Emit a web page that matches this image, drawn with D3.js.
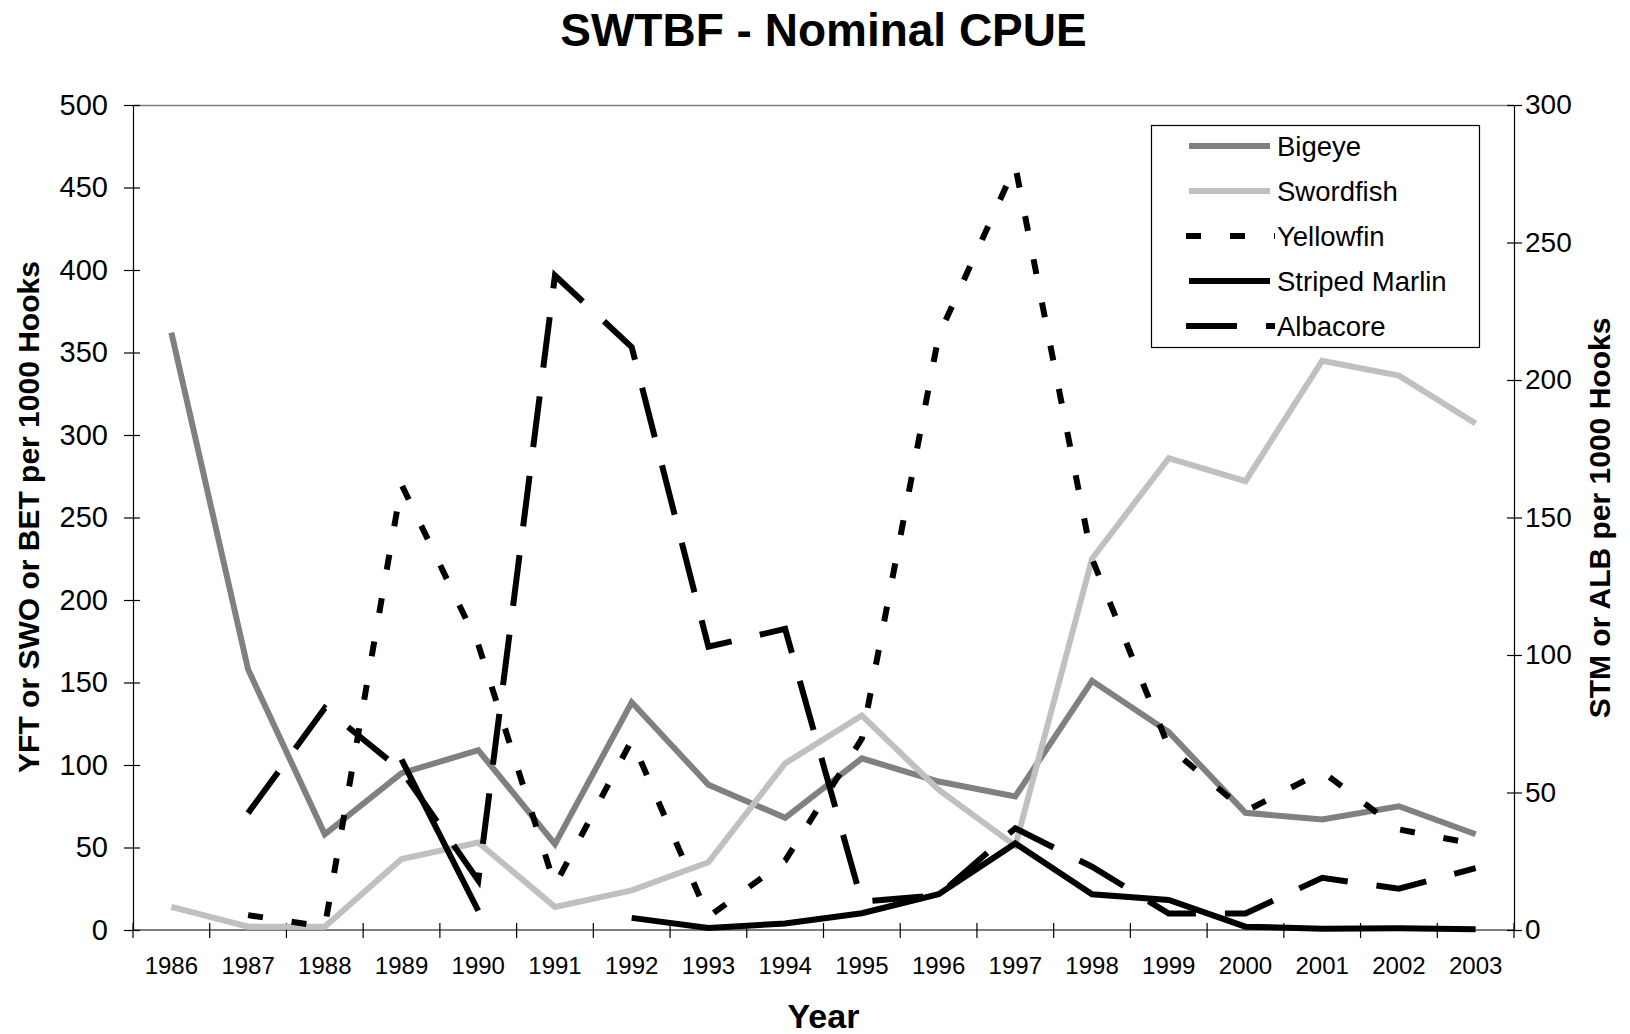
<!DOCTYPE html>
<html>
<head>
<meta charset="utf-8">
<script src="https://cdn.jsdelivr.net/npm/d3@7"></script>
<style>
  body { margin: 0; background: #fff; }
  text { font-family: "Liberation Sans", Arial, sans-serif; fill: #000; }
</style>
</head>
<body>
<div class="chart"></div>
<script>
// Years on the category axis
const years = ["1986", "1987", "1988", "1989", "1990", "1991", "1992", "1993", "1994",
  "1995", "1996", "1997", "1998", "1999", "2000", "2001", "2002", "2003"];

// Left axis series (YFT / SWO / BET per 1000 hooks)
const bigeye = [362, 158, 58, 95, 109, 52, 138, 88, 68, 104, 90, 81, 151, 120, 71, 67, 75, 58];
const swordfish = [14, 2, 2, 43, 53, 14, 24, 41, 101, 130, 85, 51, 225, 286, 272, 345, 336, 307];
const yellowfin = [null, 9, 2, 270, 173, 27, 115, 8, 42, 116, 360, 463, 225, 111, 72, 96, 61, 52];

// Right axis series (STM / ALB per 1000 hooks)
const stripedMarlin = [null, null, null, 62, 7, null, 4.4, 0.7, 2.4, 6.1, 13, 31.5, 13, 10.9, 1.2, 0.5, 0.6, 0.3];
const albacore = [null, 42.5, 80.7, 58, 18, 238, 212, 103, 109.5, 10.3, 12.7, 37, 23, 6, 6, 19, 15, 22.5];

// Tick labels
const leftTicks = [0, 50, 100, 150, 200, 250, 300, 350, 400, 450, 500];
const rightTicks = [0, 50, 100, 150, 200, 250, 300];

// Geometry
const W = 1630, H = 1034;
const plot = { left: 133, right: 1514, top: 105, bottom: 930 };

const svg = d3.select(".chart")
  .append("svg")
  .attr("width", W)
  .attr("height", H);

// Scales
const x = d3.scaleBand().domain(years).range([plot.left, plot.right]).padding(0);
const cx = d => x(d) + x.bandwidth() / 2;
const yL = d3.scaleLinear().domain([0, 500]).range([plot.bottom, plot.top]);
const yR = d3.scaleLinear().domain([0, 300]).range([plot.bottom, plot.top]);

// Top border of the plot area
svg.append("line")
  .attr("x1", plot.left).attr("x2", plot.right)
  .attr("y1", plot.top + 0.5).attr("y2", plot.top + 0.5)
  .attr("stroke", "#808080").attr("stroke-width", 1.5);

// Left axis
const gL = svg.append("g")
  .attr("transform", `translate(${plot.left},0)`)
  .call(d3.axisLeft(yL).tickValues(leftTicks).tickSize(9).tickPadding(16).tickSizeOuter(0));
gL.selectAll(".tick line").attr("x2", -9).attr("x1", 7);
gL.selectAll("text").style("font-size", "29px").attr("font-family", "Liberation Sans, Arial, sans-serif");

// Right axis
const gR = svg.append("g")
  .attr("transform", `translate(${plot.right},0)`)
  .call(d3.axisRight(yR).tickValues(rightTicks).tickSize(8).tickPadding(3).tickSizeOuter(0));
gR.selectAll(".tick line").attr("x1", -7);
gR.selectAll("text").style("font-size", "28px").attr("font-family", "Liberation Sans, Arial, sans-serif");

// Bottom axis: labels at band centres, tick marks on band boundaries
const gX = svg.append("g")
  .attr("transform", `translate(0,${plot.bottom})`)
  .call(d3.axisBottom(x).tickSize(0).tickPadding(27).tickSizeOuter(0));
gX.selectAll("text").style("font-size", "24px").attr("font-family", "Liberation Sans, Arial, sans-serif");
gX.select(".domain").attr("d", `M${plot.left},0H${plot.right}`);
const bounds = years.map(d => x(d)).concat([plot.right]);
gX.selectAll(".bound")
  .data(bounds)
  .join("line")
  .attr("class", "bound")
  .attr("x1", d => d).attr("x2", d => d)
  .attr("y1", -7).attr("y2", 8)
  .attr("stroke", "#000");

[gL, gR, gX].forEach(g => g.selectAll(".domain, line").attr("stroke", "#000").attr("stroke-width", 1.2));

// Series
const series = [
  { name: "Bigeye", values: bigeye, y: yL, color: "#808080", dash: null },
  { name: "Swordfish", values: swordfish, y: yL, color: "#c0c0c0", dash: null },
  { name: "Yellowfin", values: yellowfin, y: yL, color: "#000", dash: "15,29" },
  { name: "Striped Marlin", values: stripedMarlin, y: yR, color: "#000", dash: null },
  { name: "Albacore", values: albacore, y: yR, color: "#000", dash: "51,29" }
];

series.forEach(s => {
  const line = d3.line()
    .defined(d => d.v != null)
    .x(d => cx(d.year))
    .y(d => s.y(d.v));
  svg.append("path")
    .datum(years.map((year, i) => ({ year, v: s.values[i] })))
    .attr("d", line)
    .attr("fill", "none")
    .attr("stroke", s.color)
    .attr("stroke-width", 6)
    .attr("stroke-linejoin", "miter")
    .attr("stroke-dasharray", s.dash);
});

// Legend
const legend = svg.append("g");
legend.append("rect")
  .attr("x", 1151.5).attr("y", 125.5)
  .attr("width", 328).attr("height", 222)
  .attr("fill", "#fff").attr("stroke", "#000").attr("stroke-width", 1.2);
series.forEach((s, i) => {
  const ly = 146 + i * 45;
  legend.append("line")
    .attr("x1", s.dash ? 1186 : 1189).attr("x2", s.dash ? 1275 : 1270)
    .attr("y1", ly).attr("y2", ly)
    .attr("stroke", s.color).attr("stroke-width", 6)
    .attr("stroke-dasharray", s.dash);
  legend.append("text")
    .attr("x", 1277).attr("y", ly)
    .attr("dy", "0.35em")
    .style("font-size", "27.5px")
    .text(s.name);
});

// Titles
svg.append("text")
  .attr("x", (plot.left + plot.right) / 2).attr("y", 46)
  .attr("text-anchor", "middle")
  .style("font-size", "46px").style("font-weight", "bold")
  .text("SWTBF - Nominal CPUE");

svg.append("text")
  .attr("x", (plot.left + plot.right) / 2).attr("y", 1028)
  .attr("text-anchor", "middle")
  .style("font-size", "34px").style("font-weight", "bold")
  .text("Year");

svg.append("text")
  .attr("transform", "translate(39,517) rotate(-90)")
  .attr("text-anchor", "middle")
  .style("font-size", "30px").style("font-weight", "bold")
  .text("YFT or SWO or BET per 1000 Hooks");

svg.append("text")
  .attr("transform", "translate(1610,518) rotate(-90)")
  .attr("text-anchor", "middle")
  .style("font-size", "30px").style("font-weight", "bold")
  .text("STM or ALB per 1000 Hooks");
</script>
</body>
</html>
